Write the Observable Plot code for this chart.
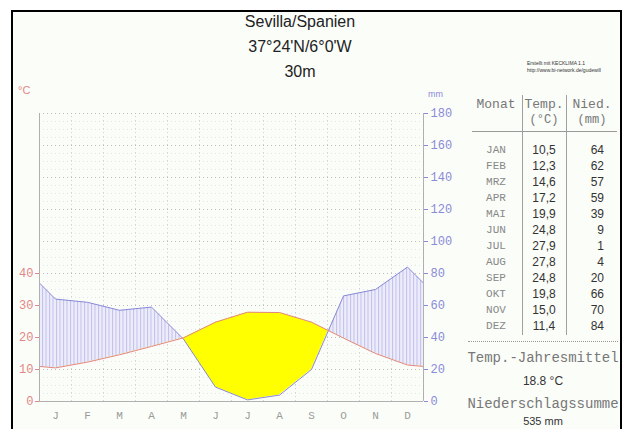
<!DOCTYPE html>
<html><head><meta charset="utf-8">
<script src="https://cdn.jsdelivr.net/npm/d3@7"></script>
<script src="https://cdn.jsdelivr.net/npm/@observablehq/plot@0.6"></script>
<style>
html,body{margin:0;padding:0;background:#fff;}
#wrap{position:relative;width:629px;height:429px;overflow:hidden;}
#frame{position:absolute;left:11px;top:10px;width:611px;height:460px;box-sizing:border-box;border:2px solid #000;background:#fbfdf9;}
#chart{position:absolute;left:0;top:0;}
.t{position:absolute;white-space:nowrap;line-height:1;}
.hl{position:absolute;}
</style></head><body>
<div id="wrap"><div id="frame"></div><div id="chart"></div></div>
<script>
// ---- data ----
const station = "Sevilla/Spanien";
const coords = "37°24'N/6°0'W";
const elevation = "30m";
const creditLines = ["Erstellt mit KECKLIMA 1.1", "http://www.bi-network.de/gudewill"];
const monthAbbr = ["JAN","FEB","MRZ","APR","MAI","JUN","JUL","AUG","SEP","OKT","NOV","DEZ"];
const monthInitials = ["J","F","M","A","M","J","J","A","S","O","N","D"];
const temperature = [10.5,12.3,14.6,17.2,19.9,24.8,27.9,27.8,24.8,19.8,15.0,11.4];
const precipitation = [64,62,57,59,39,9,1,4,20,66,70,84];
const tempTicks = [0,10,20,30,40];
const precipTicks = [0,20,40,60,80,100,120,140,160,180];

const red = "#e38686", blue = "#8a8ad8";

// rows: each month at its centre, with December / January repeated beyond the edges (clipped)
const rows = [
  {m: -0.5, t: temperature[11], p: precipitation[11]},
  ...monthAbbr.map((_, i) => ({m: i + 0.5, t: temperature[i], p: precipitation[i]})),
  {m: 12.5, t: temperature[0], p: precipitation[0]}
];
const pScaled = d => d.p / 2; // 20 mm ↔ 10 °C

const svg = Plot.plot({
  width: 629, height: 429,
  marginLeft: 39, marginRight: 206, marginTop: 113, marginBottom: 28,
  x: {domain: [0, 12]},
  y: {domain: [0, 90]},
  style: {background: "transparent", overflow: "visible"},
  marks: [
    Plot.ruleY(d3.range(0, 90, 2.5), {stroke: "#d8d8d8", strokeDasharray: "1,3", strokeOpacity: 0.7}),
    Plot.ruleY(d3.range(10, 91, 10), {stroke: "#bcbcbc", strokeDasharray: "1,3"}),
    Plot.ruleX(d3.range(1, 12), {y1: 0, y2: 90, stroke: "#cfcfcf", strokeDasharray: "1,3"}),
    Plot.areaY(rows, {x: "m", y1: 0, y2: pScaled, fill: "#000", fillOpacity: 0, ariaDescription: "underPrecip"}),
    Plot.areaY(rows, {x: "m", y1: 0, y2: "t", fill: "#000", fillOpacity: 0, ariaDescription: "underTemp"}),
    Plot.areaY(rows, {x: "m", y1: "t", y2: pScaled, fill: "url(#hatch)", clip: true, ariaDescription: "humid"}),
    Plot.areaY(rows, {x: "m", y1: "t", y2: pScaled, fill: "#ffff00", clip: true, ariaDescription: "arid"}),
    Plot.lineY(rows, {x: "m", y: pScaled, stroke: blue, strokeWidth: 1, clip: true}),
    Plot.lineY(rows, {x: "m", y: "t", stroke: red, strokeWidth: 1, clip: true}),
    Plot.ruleX([0, 12], {y1: 0, y2: 90, stroke: "#b0b0b0"}),
    Plot.ruleY([0], {stroke: "#b0b0b0"}),
    Plot.axisX({ticks: monthInitials.map((_, i) => i + 0.5), tickFormat: d => monthInitials[Math.floor(d)],
      tickSize: 0, tickPadding: 10, fontSize: 11, fontFamily: "Liberation Mono", color: "#9a9a9a", label: null}),
    Plot.axisY({ticks: tempTicks, anchor: "left", tickSize: 4, tickPadding: 2,
      fontSize: 12, fontFamily: "Liberation Mono", color: red, label: null}),
    Plot.axisY({ticks: precipTicks.map(v => v / 2), tickFormat: d => String(d * 2), anchor: "right",
      tickSize: 4, tickPadding: 3, fontSize: 12, fontFamily: "Liberation Mono", color: blue, label: null})
  ]
});

// ---- hatch pattern + clip paths (built from Plot's own rendered areas) ----
const ns = "http://www.w3.org/2000/svg";
function el(name, attrs) { const e = document.createElementNS(ns, name); for (const k in attrs) e.setAttribute(k, attrs[k]); return e; }
const defs = el("defs", {});
svg.insertBefore(defs, svg.firstChild);
const pat = el("pattern", {id: "hatch", width: 3.5, height: 8, patternUnits: "userSpaceOnUse"});
pat.appendChild(el("rect", {width: 3.5, height: 8, fill: "#ececfa"}));
pat.appendChild(el("line", {x1: 0.5, y1: 0, x2: 0.5, y2: 8, stroke: "#c0c0ec", "stroke-width": 1}));
defs.appendChild(pat);
const areaGroups = svg.querySelectorAll('g[aria-label="area"]');
function groupOf(desc, idx) { return svg.querySelector(`[aria-description="${desc}"]`) || areaGroups[idx]; }
function mainPath(g) { return Array.from(g.querySelectorAll("path")).find(p => !p.closest("clipPath")); }
function makeClip(id, g) {
  const cp = el("clipPath", {id});
  const src = mainPath(g);
  const p = el("path", {d: src.getAttribute("d")});
  if (g.getAttribute("transform")) p.setAttribute("transform", g.getAttribute("transform"));
  cp.appendChild(p); defs.appendChild(cp);
}
makeClip("underP", groupOf("underPrecip", 0));
makeClip("underT", groupOf("underTemp", 1));
mainPath(groupOf("humid", 2)).setAttribute("clip-path", "url(#underP)");
mainPath(groupOf("arid", 3)).setAttribute("clip-path", "url(#underT)");
document.getElementById("chart").appendChild(svg);

// ---- texts ----
const wrap = document.getElementById("wrap");
function text(str, x, y, opts = {}) {
  const d = document.createElement("div");
  d.className = "t";
  d.textContent = str;
  const fs = opts.size || 12;
  d.style.fontSize = fs + "px";
  d.style.fontFamily = opts.font || "'Liberation Sans', Arial, sans-serif";
  d.style.color = opts.color || "#222";
  d.style.top = (y - fs * 0.5) + "px";
  const a = opts.anchor || "start";
  if (a === "middle") { d.style.left = x + "px"; d.style.transform = "translateX(-50%)"; }
  else if (a === "end") { d.style.right = (629 - x) + "px"; }
  else d.style.left = x + "px";
  wrap.appendChild(d);
}
function line(x1, y1, x2, y2, style) {
  const d = document.createElement("div");
  d.className = "hl";
  d.style.left = x1 + "px"; d.style.top = y1 + "px";
  if (y1 === y2) { d.style.width = (x2 - x1) + "px"; d.style.borderTop = style; }
  else { d.style.height = (y2 - y1) + "px"; d.style.borderLeft = style; }
  wrap.appendChild(d);
}
text(station, 300, 22, {size: 16, anchor: "middle"});
text(coords, 300, 47, {size: 16, anchor: "middle"});
text(elevation, 300, 72, {size: 16, anchor: "middle"});
text(creditLines[0], 527, 63, {size: 5, color: "#333"});
text(creditLines[1], 527, 70, {size: 5, color: "#333"});
text("°C", 18, 90, {size: 11, color: red});
text("mm", 428, 94, {size: 9, color: blue});

const mono = "'Liberation Mono', 'Courier New', monospace";
const fmt = v => d3.format(".1f")(v).replace(".", ",");
text("Monat", 496, 104, {size: 13, font: mono, color: "#777", anchor: "middle"});
text("Temp.", 544, 104, {size: 13, font: mono, color: "#777", anchor: "middle"});
text("Nied.", 592, 104, {size: 13, font: mono, color: "#777", anchor: "middle"});
text("(°C)", 544, 120, {size: 12, font: mono, color: "#777", anchor: "middle"});
text("(mm)", 592, 120, {size: 12, font: mono, color: "#777", anchor: "middle"});
line(522, 95, 522, 335, "1px solid #a0a0a0");
line(566, 95, 566, 335, "1px solid #a0a0a0");
line(472, 131, 617, 131, "1px solid #999");
monthAbbr.forEach((m, i) => {
  const y = 150 + 16 * i;
  text(m, 496, y, {size: 11, font: mono, color: "#888", anchor: "middle"});
  text(fmt(temperature[i]), 544, y, {size: 12, color: "#333", anchor: "middle"});
  text(String(precipitation[i]), 604, y, {size: 12, color: "#333", anchor: "end"});
});
line(468, 341, 618, 341, "1px dotted #999");
const meanT = d3.mean(temperature), sumP = d3.sum(precipitation);
text("Temp.-Jahresmittel", 543, 358, {size: 14, font: mono, color: "#777", anchor: "middle"});
text(d3.format(".1f")(meanT) + " °C", 543, 381, {size: 12, color: "#333", anchor: "middle"});
text("Niederschlagssumme", 543, 404, {size: 14, font: mono, color: "#777", anchor: "middle"});
text(sumP + " mm", 543, 421, {size: 11, color: "#333", anchor: "middle"});
</script>
</body></html>
